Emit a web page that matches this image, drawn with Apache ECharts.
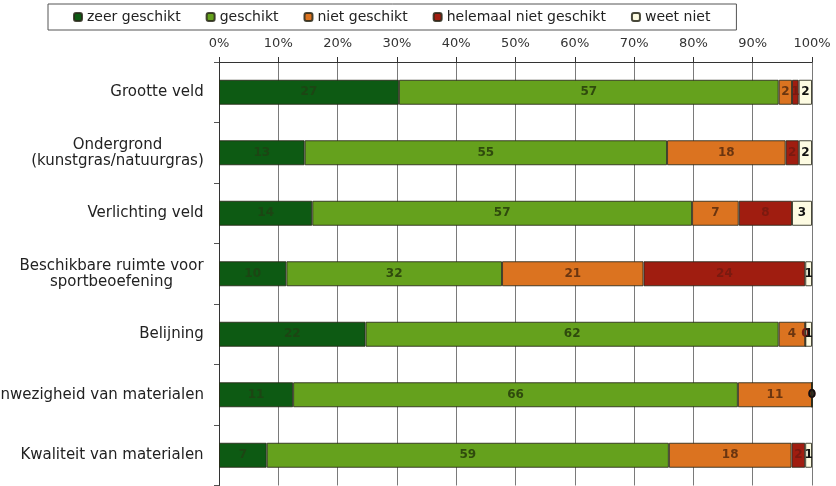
<!DOCTYPE html>
<html>
<head>
<meta charset="utf-8">
<script src="https://cdn.jsdelivr.net/npm/echarts@6/dist/echarts.min.js"></script>
<style>html,body{margin:0;padding:0;background:#fff}#c{width:836px;height:486px}</style>
</head>
<body>
<div id="c"></div>
<script>
const categories = [
  'Grootte veld',
  'Ondergrond\n(kunstgras/natuurgras)',
  'Verlichting veld',
  'Beschikbare ruimte voor\nsportbeoefening',
  'Belijning',
  'Aanwezigheid van materialen',
  'Kwaliteit van materialen'
];
const seriesNames = ['zeer geschikt', 'geschikt', 'niet geschikt', 'helemaal niet geschikt', 'weet niet'];
const zeerGeschikt = [27, 13, 14, 10, 22, 11, 7];
const geschikt = [57, 55, 57, 32, 62, 66, 59];
const nietGeschikt = [2, 18, 7, 21, 4, 11, 18];
const helemaalNiet = [1, 2, 8, 24, 0, 0, 2];
const weetNiet = [2, 2, 3, 1, 1, 0, 1];
const xTicks = [0, 10, 20, 30, 40, 50, 60, 70, 80, 90, 100];

const raw = [zeerGeschikt, geschikt, nietGeschikt, helemaalNiet, weetNiet];
const colors = ['#0d5a13', '#65a11d', '#db7320', '#a01d10', '#fdfbe2'];
const labelColors = ['#1d4514', '#2f4a0d', '#6a3510', '#7a1a10', '#111111'];
const totals = categories.map((c, i) => raw.reduce((s, arr) => s + arr[i], 0));

// multi-line category labels: lines centred within a right-aligned block
const LABEL_FONT = '15px "DejaVu Sans"';
const ctx = document.createElement('canvas').getContext('2d');
ctx.font = LABEL_FONT;
const rich = {};
categories.forEach((c, i) => {
  const lines = c.split('\n');
  const w = Math.ceil(Math.max(...lines.map(l => ctx.measureText(l).width)));
  rich['c' + i] = { width: w, align: 'center', fontSize: 15, lineHeight: 16, color: '#222', fontFamily: 'DejaVu Sans' };
});

const series = raw.map((arr, si) => ({
  name: seriesNames[si],
  type: 'bar',
  stack: 'total',
  barWidth: 25,
  itemStyle: { color: colors[si], borderColor: 'rgba(40,40,25,0.85)', borderWidth: 1 },
  label: {
    show: true,
    position: 'inside',
    color: labelColors[si],
    fontFamily: 'DejaVu Sans',
    fontWeight: 'bold',
    fontSize: 12,
    formatter: p => String(p.data.raw)
  },
  data: arr.map((v, i) => ({ value: v / totals[i] * 100, raw: v }))
}));

const chart = echarts.init(document.getElementById('c'));
chart.setOption({
  animation: false,
  backgroundColor: '#fff',
  textStyle: { fontFamily: 'DejaVu Sans' },
  legend: {
    data: seriesNames,
    left: 48,
    top: 4,
    padding: [6, 26, 6, 25],
    itemGap: 25,
    itemWidth: 8,
    itemHeight: 8,
    borderColor: '#555',
    borderWidth: 1,
    textStyle: { fontSize: 14, color: '#222', fontFamily: 'DejaVu Sans' }
  },
  grid: { left: 219, right: 24, top: 62, height: 423.5, containLabel: false, outerBoundsMode: 'none' },
  xAxis: {
    type: 'value',
    position: 'top',
    min: xTicks[0],
    max: xTicks[xTicks.length - 1],
    interval: 10,
    axisLine: { show: true, lineStyle: { color: '#333', width: 1 } },
    axisTick: { show: true, length: 5, lineStyle: { color: '#333' } },
    splitLine: { show: true, lineStyle: { color: '#7a7a7a', width: 1 } },
    axisLabel: { formatter: '{value}%', color: '#333', fontSize: 13, margin: 12, fontFamily: 'DejaVu Sans' }
  },
  yAxis: {
    type: 'category',
    inverse: true,
    data: categories,
    axisLine: { show: true, lineStyle: { color: '#333', width: 1 } },
    axisTick: { show: true, length: 5, lineStyle: { color: '#555' } },
    axisLabel: {
      color: '#222', fontSize: 15, lineHeight: 16, margin: 15, align: 'right', fontFamily: 'DejaVu Sans',
      formatter: (value, index) => {
        const i = categories.indexOf(value);
        return value.split('\n').map(l => '{c' + i + '|' + l + '}').join('\n');
      },
      rich: rich
    }
  },
  series: series
});
</script>
</body>
</html>
